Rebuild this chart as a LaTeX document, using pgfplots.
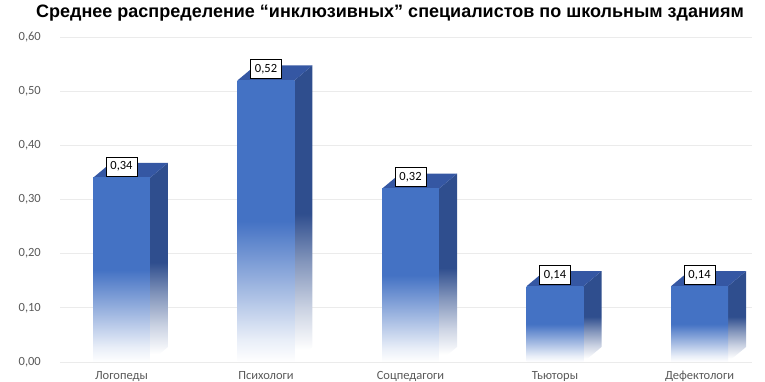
\documentclass[border=0pt]{standalone}
\usepackage{fontspec}
\setmainfont{Carlito}
\newfontfamily\titlefont{Liberation Sans}
\usepackage{pgfplots}
\usepackage{pgfplotstable}
\pgfplotsset{compat=1.18}
\definecolor{barblue}{HTML}{4472C4}
\definecolor{sideblue}{HTML}{2F4E8E}
\definecolor{topblue}{HTML}{3557A3}
\definecolor{tickgray}{HTML}{595959}
\definecolor{gridgray}{HTML}{EBEBEB}
\pgfdeclareverticalshading{frontfade}{100bp}{color(0bp)=(white); color(25bp)=(white); color(29bp)=(barblue!12); color(38bp)=(barblue!50); color(50bp)=(barblue); color(100bp)=(barblue)}
\pgfdeclareverticalshading{sidefade}{100bp}{color(0bp)=(white); color(27bp)=(white); color(34bp)=(sideblue!25); color(42bp)=(sideblue!60); color(50bp)=(sideblue); color(100bp)=(sideblue)}
\pgfplotstableread{
x v
0 0.34
1 0.52
2 0.32
3 0.14
4 0.14
}\bardata
\begin{document}
\begin{tikzpicture}
\useasboundingbox (0,0) rectangle (765bp,382bp);
\begin{axis}[
  at={(60bp,20bp)}, anchor=south west,
  scale only axis, width=692bp, height=325bp,
  xmin=-0.4256, xmax=4.363, ymin=0, ymax=0.6,
  clip=false,
  ytick={0,0.1,0.2,0.3,0.4,0.5,0.6},
  xtick={0,1,2,3,4},
  xticklabels={Логопеды,Психологи,Соцпедагоги,Тьюторы,Дефектологи},
  ymajorgrids,
  grid style={gridgray, line width=0.8bp},
  axis line style={draw=none},
  major tick length=0pt,
  tick style={draw=none},
  ticklabel style={font=\fontsize{12.5bp}{15bp}\selectfont, text=tickgray},
  yticklabel style={inner sep=0pt, anchor=east, xshift=-19bp},
  xticklabel style={inner sep=0pt, anchor=north, yshift=-9bp},
  title={Среднее распределение “инклюзивных” специалистов по школьным зданиям},
  title style={font=\titlefont\bfseries\fontsize{18bp}{21bp}\selectfont, at={(0.5,1)}, anchor=center, yshift=18bp, xshift=-16bp},
  /pgf/number format/use comma,
  /pgf/number format/fixed,
  /pgf/number format/fixed zerofill,
  /pgf/number format/precision=2,
  /pgf/number format/assume math mode=true,
]
% side faces
\addplot[draw=none, shading=sidefade] coordinates {(0.197,0) (0.3216,0.0277) (0.3216,0.3677) (0.197,0.34)} --cycle;
\addplot[draw=none, shading=sidefade] coordinates {(1.197,0) (1.3216,0.0277) (1.3216,0.5477) (1.197,0.52)} --cycle;
\addplot[draw=none, shading=sidefade] coordinates {(2.197,0) (2.3216,0.0277) (2.3216,0.3477) (2.197,0.32)} --cycle;
\addplot[draw=none, shading=sidefade] coordinates {(3.197,0) (3.3216,0.0277) (3.3216,0.1677) (3.197,0.14)} --cycle;
\addplot[draw=none, shading=sidefade] coordinates {(4.197,0) (4.3216,0.0277) (4.3216,0.1677) (4.197,0.14)} --cycle;
% top faces
\addplot[draw=none, fill=topblue] coordinates {(-0.197,0.34) (0.197,0.34) (0.3216,0.3677) (-0.0724,0.3677)} --cycle;
\addplot[draw=none, fill=topblue] coordinates {(0.803,0.52) (1.197,0.52) (1.3216,0.5477) (0.9276,0.5477)} --cycle;
\addplot[draw=none, fill=topblue] coordinates {(1.803,0.32) (2.197,0.32) (2.3216,0.3477) (1.9276,0.3477)} --cycle;
\addplot[draw=none, fill=topblue] coordinates {(2.803,0.14) (3.197,0.14) (3.3216,0.1677) (2.9276,0.1677)} --cycle;
\addplot[draw=none, fill=topblue] coordinates {(3.803,0.14) (4.197,0.14) (4.3216,0.1677) (3.9276,0.1677)} --cycle;
% front faces
\addplot[draw=none, shading=frontfade] coordinates {(-0.197,0) (0.197,0) (0.197,0.34) (-0.197,0.34)} --cycle;
\addplot[draw=none, shading=frontfade] coordinates {(0.803,0) (1.197,0) (1.197,0.52) (0.803,0.52)} --cycle;
\addplot[draw=none, shading=frontfade] coordinates {(1.803,0) (2.197,0) (2.197,0.32) (1.803,0.32)} --cycle;
\addplot[draw=none, shading=frontfade] coordinates {(2.803,0) (3.197,0) (3.197,0.14) (2.803,0.14)} --cycle;
\addplot[draw=none, shading=frontfade] coordinates {(3.803,0) (4.197,0) (4.197,0.14) (3.803,0.14)} --cycle;
% data labels
\addplot[draw=none, mark=none, nodes near coords={\pgfmathprintnumber[fixed,fixed zerofill,precision=2,use comma,assume math mode=true]{\pgfplotspointmeta}},
  every node near coord/.style={anchor=center, yshift=11.5bp, fill=white, draw=black, line width=0.6bp, inner xsep=4.5bp, inner ysep=0pt, text height=10bp, text depth=3bp, minimum height=19bp, font=\fontsize{12.5bp}{15bp}\selectfont, text=black}]
  table[x=x, y=v] {\bardata};
\end{axis}
\end{tikzpicture}
\end{document}
